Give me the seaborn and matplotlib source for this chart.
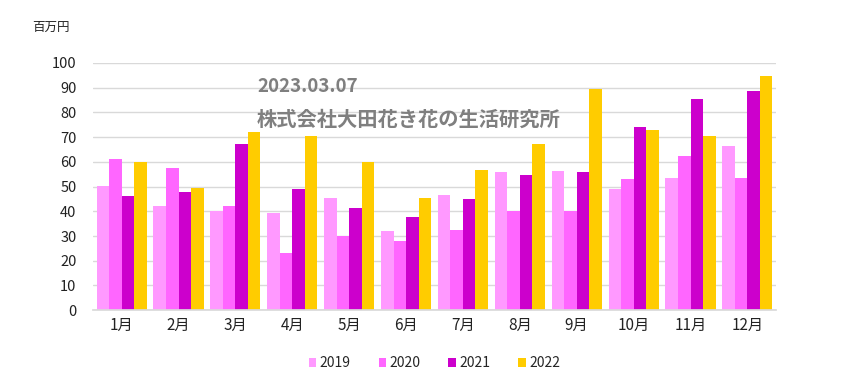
import matplotlib
matplotlib.use("Agg")
import matplotlib.pyplot as plt
import seaborn as sns
import pandas as pd

months = ["1月", "2月", "3月", "4月", "5月", "6月", "7月", "8月", "9月", "10月", "11月", "12月"]
years = ["2019", "2020", "2021", "2022"]
v2019 = [50.3, 42.2, 40.2, 39.4, 45.5, 32.2, 46.7, 55.7, 56.2, 48.8, 53.5, 66.2]
v2020 = [61.0, 57.3, 42.3, 23.3, 30.2, 27.8, 32.5, 40.3, 40.3, 53.2, 62.3, 53.5]
v2021 = [46.3, 47.9, 67.0, 49.2, 41.3, 37.5, 45.0, 54.5, 55.7, 74.2, 85.5, 88.8]
v2022 = [60.0, 49.5, 72.2, 70.6, 59.8, 45.5, 56.5, 67.0, 89.5, 73.0, 70.6, 94.5]
colors = ["#FF99FF", "#FF66FF", "#CC00CC", "#FFCC00"]

rows = []
for y, vals in zip(years, [v2019, v2020, v2021, v2022]):
    for m, v in zip(months, vals):
        rows.append({"month": m, "year": y, "value": v})
df = pd.DataFrame(rows)

sns.set_theme(style="white")
plt.rcParams['font.family'] = ['Noto Sans CJK JP', 'DejaVu Sans']

fig = plt.figure(figsize=(8.47, 3.83), dpi=100)
ax = fig.add_axes([0.11, 0.19, 0.806, 0.646])
sns.barplot(data=df, x="month", y="value", hue="year", order=months, hue_order=years,
            palette=colors, width=0.88, gap=0, saturation=1, ax=ax, errorbar=None, linewidth=0)

ax.set_ylim(0, 100)
ax.set_yticks(range(0, 101, 10))
ax.yaxis.grid(True, color="#D9D9D9", linewidth=1)
ax.set_axisbelow(True)
for s in ["top", "right", "left"]:
    ax.spines[s].set_visible(False)
ax.spines["bottom"].set_color("#D9D9D9")
ax.set_xlabel("")
ax.set_ylabel("")
ax.tick_params(axis="y", labelsize=10.5, colors="#222222", length=0, pad=12)
ax.tick_params(axis="x", labelsize=11, colors="#222222", length=0, pad=5)
ax.set_xlim(-0.5, 11.5)

handles, labels = ax.get_legend_handles_labels()
ax.legend(handles, labels, loc="center", bbox_to_anchor=(0.5, -0.215), ncol=4, frameon=False,
          fontsize=10, handlelength=0.55, handleheight=0.55, handletextpad=0.25, columnspacing=2.0)

fig.text(32/847, 1 - 27/383, "百万円", fontsize=9, color="#222222", va="center", ha="left")
fig.text(257/847, 1 - 86/383, "2023.03.07", fontsize=13.5, fontweight="bold", color="#7F7F7F", va="center", ha="left")
fig.text(257/847, 1 - 119/383, "株式会社大田花き花の生活研究所", fontsize=14.6, fontweight="bold", color="#7F7F7F", va="center", ha="left")

fig.savefig("out.png", dpi=100)
